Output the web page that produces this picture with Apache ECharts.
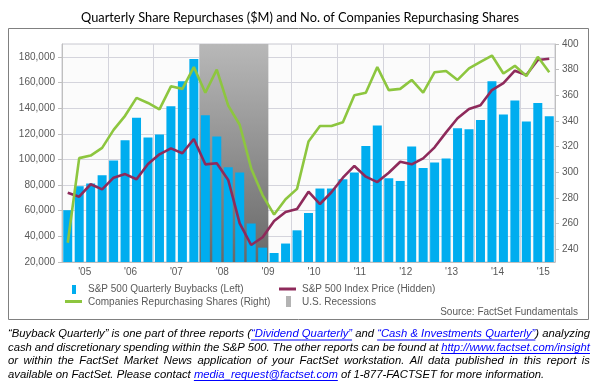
<!DOCTYPE html>
<html><head><meta charset="utf-8">
<script src="https://cdn.jsdelivr.net/npm/echarts@6/dist/echarts.min.js"></script>
<style>html,body{margin:0;padding:0;background:#fff;}#c{width:600px;height:384px;}</style>
</head><body><div id="c"></div>
<script>
const quarters = [];
for (let y = 2005; y <= 2015; y++) for (let q = 1; q <= 4; q++) if (!(y === 2015 && q === 4)) quarters.push(y + 'Q' + q);
const yearLabels = ["'05","'06","'07","'08","'09","'10","'11","'12","'13","'14","'15"];
const buybacks = [60400,79100,81200,87700, 99100,115000,132400,117100, 119400,141500,161000,178400,
  134500,117900,93900,89800, 50000,31200,27000,34400, 44700,58200,77300,77300,
  84500,89800,110500,126500, 85300,83200,110100,93400, 97600,100700,124300,123600,
  130800,161000,135000,146000, 129600,143900,133700];
const companies = [245,311,313,319, 333,344,358,354, 349,367,365,382, 362,380,352,337,
  303,282,267,279, 287,324,336,336, 339,360,362,382, 364,365,372,362,
  378,379,372,381, 386,391,377,383, 375,390,378];
const indexPrice = [1177,1149,1235,1200, 1280,1305,1269,1374, 1441,1482,1448,1546,
  1372,1379,1264,966, 817,870,982,1044, 1065,1184,1099,1180, 1280,1361,1287,1250,
  1314,1390,1372,1413, 1489,1592,1689,1753, 1778,1883,1930,2016, 1987,2090,2098];
const recession = ['2008Q1','2009Q2'];
const leftTicks = [20000,40000,60000,80000,100000,120000,140000,160000,180000];
const rightTicks = [240,260,280,300,320,340,360,380,400];
const names = {
  bars: 'S&P 500 Quarterly Buybacks (Left)',
  index: 'S&P 500 Index Price (Hidden)',
  comp: 'Companies Repurchasing Shares (Right)',
  rec: 'U.S. Recessions'
};
const titleText = 'Quarterly Share Repurchases ($M) and No. of Companies Repurchasing Shares';
const sourceText = 'Source: FactSet Fundamentals';
const footerLines = [
  [['“Buyback Quarterly” is one part of three reports (',0],['“Dividend Quarterly”',1],[' and ',0],['“Cash & Investments Quarterly”',1],[') analyzing',0]],
  [['cash and discretionary spending within the S&P 500. The other reports can be found at ',0],['http://www.factset.com/insight',1]],
  [['or within the FactSet Market News application of your FactSet workstation. All data published in this report is',0]],
  [['available on FactSet.  Please contact ',0],['media_request@factset.com',1],[' of 1-877-FACTSET for more information.',0]]
];

const BLUE = '#00adef', GREEN = '#8dc63f', MAROON = '#8e2a5b', AX = '#595959', GRID = '#d4d4dc';
const LF = "'Liberation Sans', Arial, sans-serif";

// footer layout (justified)
const footFont = "italic 11.3px 'Liberation Sans'";
const cv = document.createElement('canvas').getContext('2d');
cv.font = footFont;
const mw = t => cv.measureText(t).width;
const footer = [];
const fx0 = 8, fx1 = 590, fy = [334, 347.5, 361, 374.5];
footerLines.forEach((segs, li) => {
  const words = [[]];
  segs.forEach(([t, link]) => {
    t.split(' ').forEach((p, i) => {
      if (i > 0) words.push([]);
      if (p) words[words.length - 1].push({t: p, link});
    });
  });
  const ws = words.filter(w => w.length);
  const widths = ws.map(w => w.reduce((s, p) => s + mw(p.t), 0));
  const total = widths.reduce((a, b) => a + b, 0);
  const last = li === footerLines.length - 1;
  const gap = last ? mw(' ') : (fx1 - fx0 - total) / (ws.length - 1);
  let x = fx0;
  ws.forEach((w, wi) => {
    let px = x;
    w.forEach(p => {
      const pw = mw(p.t);
      footer.push({type: 'text', x: px, y: fy[li], style: {text: p.t, font: footFont, fill: p.link ? '#0000ff' : '#000', textVerticalAlign: 'middle'}});
      if (p.link) {
        let ex = px + pw;
        const nxt = ws[wi + 1];
        if (p === w[w.length - 1] && nxt && nxt[0].link) ex += gap;
        footer.push({type: 'line', shape: {x1: px, y1: fy[li] + 6, x2: ex, y2: fy[li] + 6}, style: {stroke: '#0000ff', lineWidth: 1}});
      }
      px += pw;
    });
    x += widths[wi] + gap;
  });
});

const legendFont = "10px 'Liberation Sans'";
const graphics = [
  {type: 'rect', shape: {x: 8.5, y: 28.5, width: 580, height: 291}, style: {fill: 'none', stroke: '#808080', lineWidth: 1}, z: -10},
  {type: 'rect', shape: {x: 72, y: 285, width: 4, height: 9}, style: {fill: BLUE}},
  {type: 'text', x: 88, y: 289.5, style: {text: names.bars, font: legendFont, fill: AX, textVerticalAlign: 'middle'}},
  {type: 'line', shape: {x1: 65, y1: 301.5, x2: 82, y2: 301.5}, style: {stroke: GREEN, lineWidth: 3}},
  {type: 'text', x: 88, y: 302, style: {text: names.comp, font: legendFont, fill: AX, textVerticalAlign: 'middle'}},
  {type: 'line', shape: {x1: 279, y1: 289, x2: 296, y2: 289}, style: {stroke: MAROON, lineWidth: 3}},
  {type: 'text', x: 302, y: 289.5, style: {text: names.index, font: legendFont, fill: AX, textVerticalAlign: 'middle'}},
  {type: 'rect', shape: {x: 286, y: 296, width: 5, height: 11}, style: {fill: '#b3b3b3'}},
  {type: 'text', x: 302, y: 302, style: {text: names.rec, font: legendFont, fill: AX, textVerticalAlign: 'middle'}},
  {type: 'text', x: 578, y: 312.5, style: {text: sourceText, font: legendFont, fill: AX, textAlign: 'right', textVerticalAlign: 'middle'}}
].concat(footer);

const recStart = quarters.indexOf(recession[0]);
const recEnd = quarters.indexOf(recession[1]) + 1;

const chart = echarts.init(document.getElementById('c'), null, {renderer: 'canvas'});
chart.setOption({
  animation: false,
  backgroundColor: '#fff',
  title: {text: titleText, left: 'center', top: 6, textStyle: {fontFamily: 'Lato', fontSize: 12.8, fontWeight: 'normal', color: '#000'}},
  grid: {left: 62, right: 45, top: 44, bottom: 122, show: true, backgroundColor: '#fbfbfb', borderColor: '#c8c8d0', borderWidth: 1},
  xAxis: [{
    type: 'category', data: quarters, boundaryGap: true,
    axisLine: {lineStyle: {color: '#bfbfbf'}},
    axisTick: {interval: (i) => i % 4 === 0, length: 4, lineStyle: {color: '#bfbfbf'}},
    axisLabel: {interval: (i) => i % 4 === 1, formatter: (v, i) => yearLabels[Math.floor(i / 4)],
      padding: [0, 0, 0, 11], color: AX, fontSize: 10, fontFamily: LF, margin: 5},
    splitLine: {show: true, interval: (i) => i % 4 === 0, lineStyle: {color: GRID}}
  }, {
    type: 'value', show: false, min: 0, max: quarters.length
  }],
  yAxis: [
    {type: 'value', min: 20000, max: 190000, interval: 20000,
      axisLine: {show: true, lineStyle: {color: '#bfbfbf'}},
      axisTick: {show: true, length: 4, lineStyle: {color: '#bfbfbf'}, customValues: leftTicks},
      axisLabel: {color: AX, fontSize: 10, fontFamily: LF, margin: 7, customValues: leftTicks},
      splitLine: {lineStyle: {color: GRID}}},
    {type: 'value', position: 'right', min: 230, max: 400,
      axisLine: {show: true, lineStyle: {color: '#bfbfbf'}},
      axisTick: {show: true, length: 4, lineStyle: {color: '#bfbfbf'}, customValues: rightTicks},
      axisLabel: {color: AX, fontSize: 10, fontFamily: LF, margin: 7, customValues: rightTicks},
      splitLine: {show: false}},
    {type: 'value', show: false, min: 700, max: 2200}
  ],
  series: [
    {name: names.rec, type: 'line', data: [], xAxisIndex: 1, yAxisIndex: 2, z: 1, silent: true,
      markArea: {silent: true, itemStyle: {color: {type: 'linear', x: 0, y: 0, x2: 0, y2: 1,
        colorStops: [{offset: 0, color: '#b8b8b8'}, {offset: 1, color: '#686868'}]}},
        data: [[{xAxis: recStart}, {xAxis: recEnd}]]}},
    {name: names.bars, type: 'bar', data: buybacks, yAxisIndex: 0, barWidth: 9, z: 2,
      itemStyle: {color: BLUE}},
    {name: names.index, type: 'line', data: indexPrice, yAxisIndex: 2, symbol: 'none', z: 3,
      lineStyle: {color: MAROON, width: 2.6}},
    {name: names.comp, type: 'line', data: companies, yAxisIndex: 1, symbol: 'none', z: 4,
      lineStyle: {color: GREEN, width: 2.6}}
  ],
  graphic: graphics
});
</script></body></html>
